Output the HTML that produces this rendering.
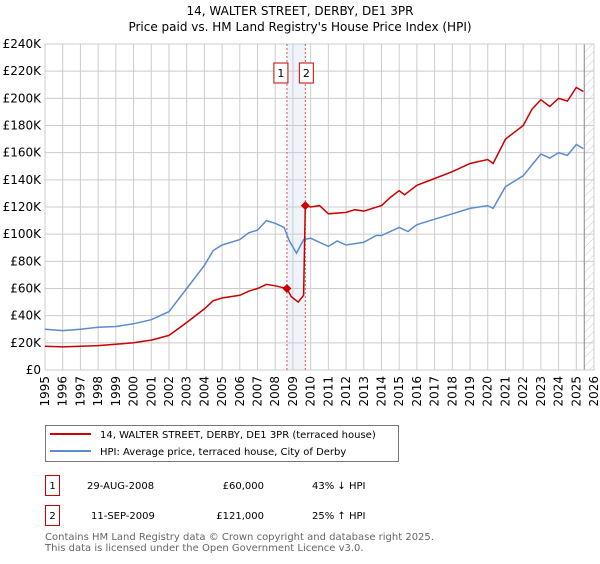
<!DOCTYPE html>
<html><head><meta charset="utf-8"><style>
body{margin:0;background:#fff;width:600px;height:560px;overflow:hidden;font-family:"DejaVu Sans","Liberation Sans",sans-serif}
svg text{font-family:"DejaVu Sans","Liberation Sans",sans-serif}
</style></head><body>
<svg id="chart" width="600" height="560" xmlns="http://www.w3.org/2000/svg">
<defs><pattern id="hatch" width="6" height="6" patternUnits="userSpaceOnUse" patternTransform="rotate(45)"><line x1="0" y1="0" x2="0" y2="6" stroke="#ccc" stroke-width="1"/></pattern></defs>
<text x="300" y="15" font-size="12" text-anchor="middle">14, WALTER STREET, DERBY, DE1 3PR</text>
<text x="300" y="31" font-size="12" text-anchor="middle">Price paid vs. HM Land Registry's House Price Index (HPI)</text>
<g id="grid"></g><g id="series"></g><g id="axes"></g>
<rect x="45.5" y="425.5" width="353" height="36" fill="#fff" stroke="#777"/>
<line x1="50" y1="434" x2="91" y2="434" stroke="#cc0000" stroke-width="2"/>
<text x="100" y="438" font-size="10">14, WALTER STREET, DERBY, DE1 3PR (terraced house)</text>
<line x1="50" y1="451" x2="91" y2="451" stroke="#5b8bd0" stroke-width="2"/>
<text x="100" y="455" font-size="10">HPI: Average price, terraced house, City of Derby</text>
<g font-size="10">
<rect x="45.5" y="475.5" width="14" height="20" fill="#fff" stroke="#cc0000"/><text x="52.5" y="489" text-anchor="middle">1</text>
<text x="87" y="489">29-AUG-2008</text><text x="264" y="489" text-anchor="end">£60,000</text><text x="312" y="489">43% ↓ HPI</text></g>
<g font-size="10">
<rect x="45.5" y="505.5" width="14" height="20" fill="#fff" stroke="#cc0000"/><text x="52.5" y="519" text-anchor="middle">2</text>
<text x="91" y="519">11-SEP-2009</text><text x="264" y="519" text-anchor="end">£121,000</text><text x="312" y="519">25% ↑ HPI</text></g>
<text x="45" y="540" font-size="10" fill="#666">Contains HM Land Registry data © Crown copyright and database right 2025.</text>
<text x="45" y="551" font-size="10" fill="#666">This data is licensed under the Open Government Licence v3.0.</text>
</svg>
<script>
const hpiYears=[1995,1996,1997,1998,1999,2000,2001,2002,2003,2004,2004.5,2005,2006,2006.5,2007,2007.5,2008,2008.5,2008.8,2009.2,2009.6,2010,2011,2011.5,2012,2013,2013.7,2014,2015,2015.5,2016,2017,2018,2019,2020,2020.3,2021,2022,2022.5,2023,2023.5,2024,2024.5,2025,2025.4];
const hpiValues=[30000,29000,30000,31500,32000,34000,37000,43000,60000,77000,88000,92000,96000,101000,103000,110000,108000,105000,95000,86000,96000,97000,91000,95000,92000,94000,99000,99000,105000,102000,107000,111000,115000,119000,121000,119000,135000,143000,151000,159000,156000,160000,158000,166000,163000];
const priceYears=[1995,1996,1997,1998,1999,2000,2001,2002,2003,2004,2004.5,2005,2006,2006.5,2007,2007.5,2008,2008.66,2008.9,2009.3,2009.6,2009.7,2010,2010.5,2011,2012,2012.5,2013,2014,2014.5,2015,2015.3,2016,2017,2018,2019,2020,2020.3,2021,2022,2022.5,2023,2023.5,2024,2024.5,2025,2025.4];
const priceValues=[17500,17000,17500,18000,19000,20000,22000,25500,35000,45000,51000,53000,55000,58000,60000,63000,62000,60000,54000,50000,55000,121000,120000,121000,115000,116000,118000,117000,121000,127000,132000,129000,136000,141000,146000,152000,155000,152000,170000,180000,192000,199000,194000,200000,198000,208000,205000];
const saleYears=[2008.66,2009.7];
const saleValues=[60000,121000];
const saleLabels=["1","2"];
const yTicks=[0,20000,40000,60000,80000,100000,120000,140000,160000,180000,200000,220000,240000];
const xTicks=[1995,1996,1997,1998,1999,2000,2001,2002,2003,2004,2005,2006,2007,2008,2009,2010,2011,2012,2013,2014,2015,2016,2017,2018,2019,2020,2021,2022,2023,2024,2025,2026];
const L=45,R=594,T=44,B=370,X0=1995,X1=2026,YMAX=240000,dataEnd=2025.45;
const sx=y=>L+(y-X0)/(X1-X0)*(R-L), sy=v=>B-v/YMAX*(B-T);
const NS="http://www.w3.org/2000/svg";
function mk(p,t,a){const e=document.createElementNS(NS,t);for(const k in a)e.setAttribute(k,a[k]);p.appendChild(e);return e;}
const grid=document.getElementById('grid'),ser=document.getElementById('series'),ax=document.getElementById('axes');
const bg=mk(grid,'rect',{x:L,y:T,width:R-L,height:B-T,fill:'#fff'});


const sh=mk(grid,'rect',{x:sx(saleYears[0]),y:T,width:sx(saleYears[1])-sx(saleYears[0]),height:B-T,fill:'#eef3fc'});


const ht=mk(grid,'rect',{x:sx(dataEnd),y:T,width:R-sx(dataEnd),height:B-T,fill:'url(#hatch)'});


yTicks.forEach(v=>{mk(grid,'line',{x1:L,x2:R,y1:sy(v),y2:sy(v),stroke:'#ccc'});
 const t=mk(ax,'text',{x:L-4,y:sy(v)+4,'font-size':12,'text-anchor':'end'});t.textContent='£'+(v/1000)+(v?'K':'');
 
 });
xTicks.forEach(y=>{mk(grid,'line',{x1:sx(y),x2:sx(y),y1:T,y2:B,stroke:'#ccc'});
 const t=mk(ax,'text',{x:0,y:0,'font-size':12,'text-anchor':'end',transform:`translate(${sx(y)+4},${B+6}) rotate(-90)`});t.textContent=y;
 
 });
mk(grid,'line',{x1:sx(dataEnd),x2:sx(dataEnd),y1:T,y2:B,stroke:'#888'});
mk(grid,'rect',{x:L,y:T,width:R-L,height:B-T,fill:'none',stroke:'#ccc'});
saleYears.forEach((y,i)=>{mk(grid,'line',{x1:sx(y),x2:sx(y),y1:T,y2:B,stroke:'#e05050','stroke-dasharray':'2,2'});
 const g=mk(ax,'g',{});
 
 
 const bx=sx(y)+(i==0?-6:1);
 mk(g,'rect',{x:bx-7,y:63,width:14,height:20,fill:'#fff',stroke:'#cc0000'});
 const t=mk(g,'text',{x:bx,y:77,'font-size':11,'text-anchor':'middle'});t.textContent=saleLabels[i];});
const pts=(xs,vs)=>xs.map((x,i)=>sx(x).toFixed(1)+','+sy(vs[i]).toFixed(1)).join(' ');
const h=mk(ser,'polyline',{points:pts(hpiYears,hpiValues),fill:'none',stroke:'#5b8bd0','stroke-width':1.5});


const p=mk(ser,'polyline',{points:pts(priceYears,priceValues),fill:'none',stroke:'#cc0000','stroke-width':1.5});


saleYears.forEach((y,i)=>{const cx=sx(y),cy=sy(saleValues[i]);
 const c=mk(ser,'polygon',{points:`${cx},${cy-4.5} ${cx+4.5},${cy} ${cx},${cy+4.5} ${cx-4.5},${cy}`,fill:'#cc0000'});
 
 });
</script>
</body></html>
